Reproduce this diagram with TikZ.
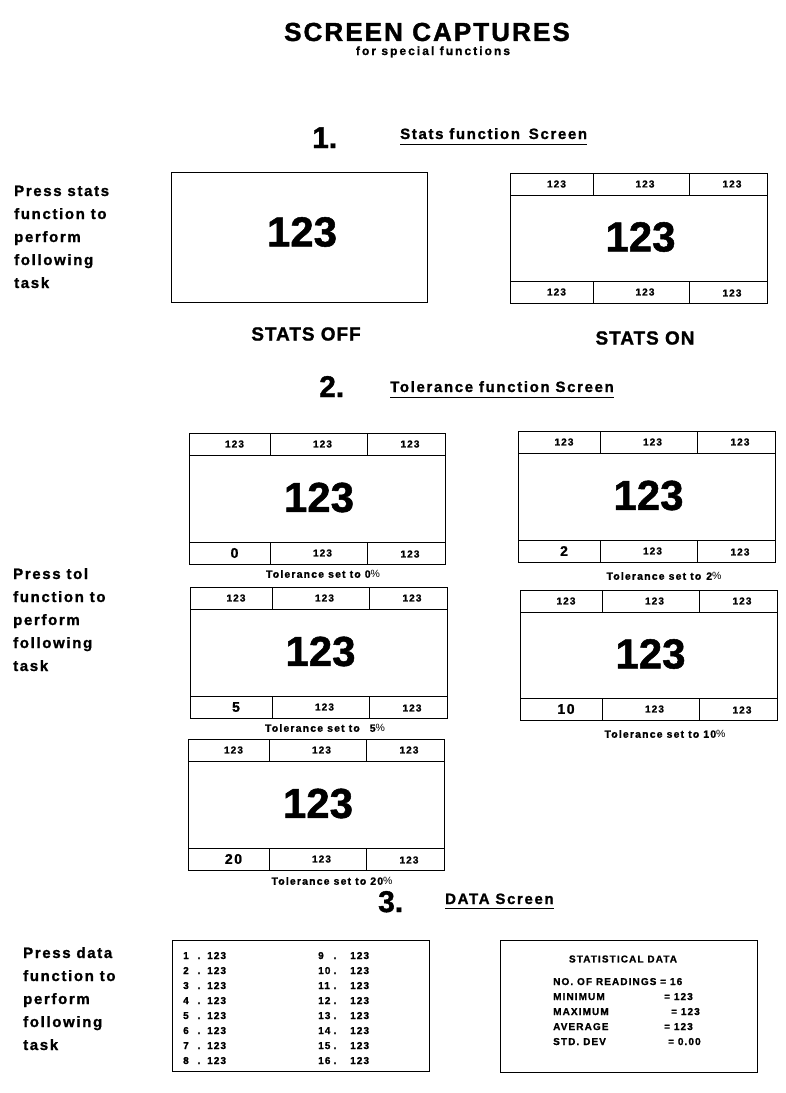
\documentclass[tikz,border=0pt]{standalone}
\usepackage{fontspec}
\newfontfamily\fS{Liberation Sans}[LetterSpace=11, BoldFeatures={FakeBold=1.2}]
\newfontfamily\fW{Liberation Sans}[LetterSpace=17, BoldFeatures={FakeBold=1.2}]
\newfontfamily\fT{Liberation Sans}[LetterSpace=8, BoldFeatures={FakeBold=1.5}]
\newfontfamily\fM{Liberation Sans}[LetterSpace=5, BoldFeatures={FakeBold=1.2}]
\newfontfamily\fB{Liberation Sans}[BoldFeatures={FakeBold=1.2}]
\tikzset{
  scr/.style={draw=black, line width=1pt},
  cell/.style={font=\fS\bfseries\fontsize{10}{12}\selectfont, inner sep=0pt},
  big/.style={font=\fB\bfseries\fontsize{42}{48}\selectfont, inner sep=0pt},
  lbl/.style={font=\fS\bfseries\fontsize{14}{16}\selectfont, inner sep=0pt},
  side/.style={font=\fS\bfseries\fontsize{15}{18}\selectfont, inner sep=0pt, anchor=base west},
  head/.style={font=\fS\bfseries\fontsize{15}{18}\selectfont, inner sep=0pt, anchor=base west},
  secnum/.style={font=\fB\bfseries\fontsize{30}{34}\selectfont, inner sep=0pt, anchor=base west},
  capt/.style={font=\fS\bfseries\fontsize{10.5}{12}\selectfont, inner sep=0pt},
  dat/.style={font=\fS\bfseries\fontsize{10}{12}\selectfont, inner sep=0pt},
  state/.style={font=\fM\bfseries\fontsize{19}{22}\selectfont, inner sep=0pt},
}
% #1 name, #2 x1, #3 y1, #4 x2, #5 y2, #6 divider a, #7 divider b, #8 style, #9 bottom-left text
\newcommand\scrn[9]{%
  \draw[scr] (#2,#3) rectangle (#4,#5);
  \draw[scr] (#2,{#3+22}) -- (#4,{#3+22});
  \draw[scr] (#2,{#5-22}) -- (#4,{#5-22});
  \draw[scr] (#6,#3) -- (#6,{#3+22});
  \draw[scr] (#7,#3) -- (#7,{#3+22});
  \draw[scr] (#6,{#5-22}) -- (#6,#5);
  \draw[scr] (#7,{#5-22}) -- (#7,#5);
  \node[cell] (#1-t1) at ({(#2+#6)/2+5},{#3+11}) {123};
  \node[cell] (#1-t2) at ({(#6+#7)/2+4},{#3+11}) {123};
  \node[cell] (#1-t3) at ({(#7+#4)/2+4},{#3+11}) {123};
  \node[big] (#1-m) at ({(#2+#4)/2+2},{(#3+#5)/2-1}) {123};
  \node[#8] (#1-b1) at ({(#2+#6)/2+5},{#5-11}) {#9};
  \node[cell] (#1-b2) at ({(#6+#7)/2+4},{#5-11}) {123};
  \node[cell] (#1-b3) at ({(#7+#4)/2+4},{#5-10}) {123};
}
\begin{document}
\begin{tikzpicture}[x=1pt, y=-1pt]
\useasboundingbox[fill=white] (0,0) rectangle (786,1093);

% title
\node[font=\fT\bfseries\fontsize{26}{30}\selectfont, inner sep=0pt] (title) at (427,32) {SCREEN CAPTURES};
\node[font=\fW\bfseries\fontsize{12}{14}\selectfont, inner sep=0pt, anchor=base] (sub) at (433,55) {for special functions};

% section 1
\node[secnum] (n1) at (312,148) {1.};
\node[head] (h1) at (400,139) {Stats function\hspace{3pt} Screen};
\draw[scr] ([yshift=-5pt]h1.base west) -- ([yshift=-5pt]h1.base east);

\node[side] (s1a) at (14,196) {Press stats};
\node[side] (s1b) at (14,219) {function to};
\node[side] (s1c) at (14,242) {perform};
\node[side] (s1d) at (14,265) {following};
\node[side] (s1e) at (14,288) {task};

\draw[scr] (171,172) rectangle (427,302);
\node[big] (off-m) at (302,232) {123};
\scrn{on}{510}{173}{767}{303}{593}{689}{cell}{123}

\node[state] (soff) at (306,334) {STATS OFF};
\node[state] (son) at (645,338) {STATS ON};

% section 2
\node[secnum] (n2) at (319,397) {2.};
\node[head] (h2) at (390,392) {Tolerance function Screen};
\draw[scr] ([yshift=-5pt]h2.base west) -- ([yshift=-5pt]h2.base east);

\node[side] (s2a) at (13,579) {Press tol};
\node[side] (s2b) at (13,602) {function to};
\node[side] (s2c) at (13,625) {perform};
\node[side] (s2d) at (13,648) {following};
\node[side] (s2e) at (13,671) {task};

\scrn{t0}{189}{433}{445}{564}{270}{367}{lbl}{0}
\scrn{t2}{518}{431}{775}{562}{600}{697}{lbl}{2}
\scrn{t5}{190}{587}{447}{718}{272}{369}{lbl}{5}
\scrn{t10}{520}{590}{777}{720}{602}{699}{lbl}{10}
\scrn{t20}{188}{739}{444}{870}{269}{366}{lbl}{20}

\node[capt] (c0) at (323,574) {Tolerance set to 0{\mdseries\%}};
\node[capt] (c2) at (664,576) {Tolerance set to\hspace{5pt}2{\mdseries\%}};
\node[capt] (c5) at (325,728) {Tolerance set to\hspace{10pt}5{\mdseries\%}};
\node[capt] (c10) at (665,734) {Tolerance set to 10{\mdseries\%}};
\node[capt] (c20) at (332,881) {Tolerance set to 20{\mdseries\%}};

% section 3
\node[secnum] (n3) at (378,912) {3.};
\node[head] (h3) at (445,904) {DATA Screen};
\draw[scr] ([yshift=-4pt]h3.base west) -- ([yshift=-4pt]h3.base east);

\node[side] (s3a) at (23,958) {Press data};
\node[side] (s3b) at (23,981) {function to};
\node[side] (s3c) at (23,1004) {perform};
\node[side] (s3d) at (23,1027) {following};
\node[side] (s3e) at (23,1050) {task};

\draw[scr] (172,940) rectangle (429,1071);
\foreach \i in {1,...,8} {
  \node[dat, anchor=base west] (dn\i) at (183,{944+15*\i}) {\i};
  \node[dat, anchor=base] (dd\i) at (199,{944+15*\i}) {.};
  \node[dat, anchor=base west] (dv\i) at (207,{944+15*\i}) {123};
}
\foreach \i in {9,...,16} {
  \node[dat, anchor=base west] (dn\i) at (318,{944+15*(\i-8)}) {\i};
  \node[dat, anchor=base] (dd\i) at (335,{944+15*(\i-8)}) {.};
  \node[dat, anchor=base west] (dv\i) at (350,{944+15*(\i-8)}) {123};
}

\draw[scr] (500,940) rectangle (757,1072);
\node[dat] (sd) at (623,959) {STATISTICAL DATA};
\node[dat, anchor=base west] (r1) at (553,985) {NO. OF READINGS = 16};
\node[dat, anchor=base west] (r2) at (553,1000) {MINIMUM};
\node[dat, anchor=base west] (v2) at (664,1000) {= 123};
\node[dat, anchor=base west] (r3) at (553,1015) {MAXIMUM};
\node[dat, anchor=base west] (v3) at (671,1015) {= 123};
\node[dat, anchor=base west] (r4) at (553,1030) {AVERAGE};
\node[dat, anchor=base west] (v4) at (664,1030) {= 123};
\node[dat, anchor=base west] (r5) at (553,1045) {STD. DEV};
\node[dat, anchor=base west] (v5) at (668,1045) {= 0.00};
\end{tikzpicture}
\end{document}
